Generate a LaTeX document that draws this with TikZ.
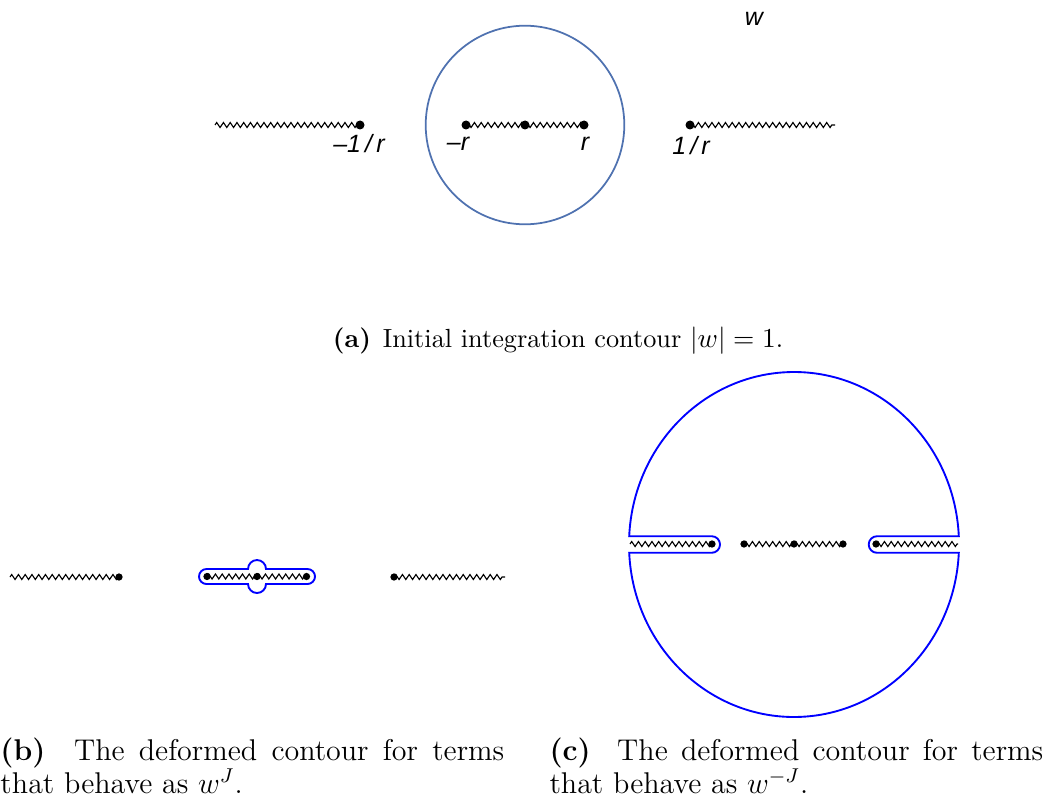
\documentclass[tikz,border=0pt]{standalone}
\usepackage{fontspec}
\newfontfamily\arialfont{Liberation Sans}
\usetikzlibrary{decorations.pathmorphing}
\definecolor{steelc}{RGB}{79,114,176}
\definecolor{purec}{RGB}{0,0,255}
\tikzset{
  cut/.style={decorate, decoration={zigzag, segment length=2.7pt, amplitude=1pt}, line width=0.45pt, black},
  dotA/.style={circle, fill=black, inner sep=0pt, minimum size=3.6pt},
  dotB/.style={circle, fill=black, inner sep=0pt, minimum size=2.9pt},
  lbl/.style={font=\arialfont\itshape, inner sep=0pt},
  contourA/.style={draw=steelc, line width=0.7pt},
  contourB/.style={draw=purec, line width=0.75pt},
  capt/.style={inner sep=0pt, font=\fontsize{10.5}{13.3}\selectfont},
  subcapt/.style={inner sep=0pt, font=\fontsize{12}{13.3}\selectfont, align=justify},
}
\begin{document}
\begin{tikzpicture}[x=0.4pt, y=-0.4pt]
\useasboundingbox (0,0) rectangle (1045,799);
% ---------- (a) ----------
\draw[contourA] (525,125) circle[radius=99.3];
\coordinate (aL) at (215,125);
\coordinate (aR) at (835,125);
\node[dotA] (a1) at (360,125) {};
\node[dotA] (a2) at (466,125) {};
\node[dotA] (a3) at (525,125) {};
\node[dotA] (a4) at (584,125) {};
\node[dotA] (a5) at (690,125) {};
\draw[cut] (aL) -- (a1.center);
\draw[cut] (a2.center) -- (a3.center);
\draw[cut] (a3.center) -- (a4.center);
\draw[cut] (a5.center) -- (aR);
\node[lbl] (l1) at (359,144) {–1\,/\,r};
\node[lbl] (l2) at (458,144) {–r};
\node[lbl] (l3) at (585,144) {r};
\node[lbl] (l4) at (691,146) {1\,/\,r};
\node[lbl] (l5) at (754,19) {w};
\node[capt] (ca) at (558,341) {\textbf{(a)}\hspace{0.45em}Initial integration contour $|w|=1$.};
% ---------- (b) ----------
\draw[contourB] (206.5,569) -- (248,569) arc[start angle=180, end angle=360, radius=9]
  -- (307.5,569) arc[start angle=270, end angle=450, radius=7.5]
  -- (266,584) arc[start angle=0, end angle=180, radius=9]
  -- (206.5,584) arc[start angle=90, end angle=270, radius=7.5] -- cycle;
\coordinate (bL) at (10,577);
\coordinate (bR) at (505,577);
\node[dotB] (b1) at (119,577) {};
\node[dotB] (b2) at (207,576.5) {};
\node[dotB] (b3) at (257,576.5) {};
\node[dotB] (b4) at (306.5,576.5) {};
\node[dotB] (b5) at (394,577) {};
\draw[cut] (bL) -- (b1.center);
\draw[cut] (b2.center) -- (b3.center);
\draw[cut] (b3.center) -- (b4.center);
\draw[cut] (b5.center) -- (bR);
% ---------- (c) ----------
\draw[contourB] (958.8,536.2) arc[start angle=-2.76, end angle=-177.24, x radius=165, y radius=172.5]
  -- (711.7,536.2) arc[start angle=-90, end angle=90, radius=8.3]
  -- (629.2,552.8) arc[start angle=177.24, end angle=2.76, x radius=165, y radius=172.5]
  -- (877,552.8) arc[start angle=90, end angle=270, radius=8.3] -- cycle;
\coordinate (cL) at (630,544);
\coordinate (cR) at (958,544);
\node[dotB] (c1) at (712,544) {};
\node[dotB] (c2) at (744,544) {};
\node[dotB] (c3) at (794,544) {};
\node[dotB] (c4) at (843,544) {};
\node[dotB] (c5) at (876,544) {};
\draw[cut] (cL) -- (c1.center);
\draw[cut] (c2.center) -- (c3.center);
\draw[cut] (c3.center) -- (c4.center);
\draw[cut] (c5.center) -- (cR);
% ---------- captions ----------
\node[subcapt, anchor=north west, text width=201.5pt] (cb) at (0,737)
  {\textbf{(b)} \ The deformed contour for terms\linebreak that behave as $w^J$.};
\node[subcapt, anchor=north west, text width=197.5pt] (cc) at (549,737)
  {\textbf{(c)} \ The deformed contour for terms\linebreak that behave as $w^{-J}$.};
\end{tikzpicture}
\end{document}
